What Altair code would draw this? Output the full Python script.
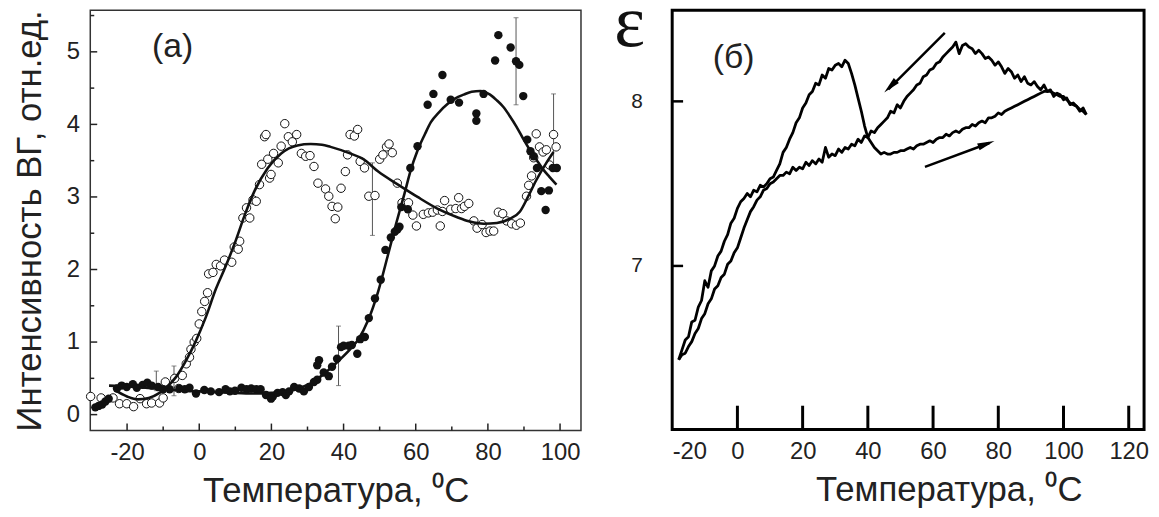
import altair as alt
import pandas as pd

# ---------------- Panel (a): SHG intensity vs temperature ----------------
open_T = [-30.1, -27.2, -23.9, -22.1, -20.1, -18.2, -16.4, -14.6, -13.2, -11.0, -10.0, -9.4, -6.8, -5.7,
          -4.7, -3.6, -2.7, -2.3, -1.4, -0.7, 0.0, 0.7, 1.5, 2.3, 2.6, 3.8, 4.7, 5.9, 7.0, 9.0, 9.7, 10.8,
          11.2, 12.1, 13.1, 14.0, 14.9, 15.8, 16.7, 17.3, 18.1, 18.5, 19.0, 19.5, 19.9, 20.6, 21.9, 22.7,
          23.7, 24.7, 25.8, 27.0, 28.3, 29.5, 30.7, 31.8, 32.9, 35.0, 35.9, 36.8, 38.4, 37.7, 39.3, 40.5,
          41.1, 41.8, 43.0, 43.9, 44.6, 45.8, 47.0, 48.7, 50.0, 50.9, 51.9, 52.6, 53.5, 54.9, 56.2, 58.0,
          59.2, 60.2, 62.1, 63.5, 64.7, 66.0, 67.4, 68.0, 69.7, 71.1, 71.9, 72.7, 73.5, 74.7, 66.8, 76.1,
          77.0, 78.4, 79.5, 80.6, 81.6, 82.9, 84.1, 85.2, 86.6, 87.9, 89.0, 90.7, 91.3, 92.1, 92.7, 93.4,
          94.3, 95.3, 96.2, 97.1, 98.2, 98.9]
open_I = [0.25, 0.23, 0.23, 0.15, 0.15, 0.11, 0.22, 0.15, 0.16, 0.16, 0.23, 0.45, 0.50, 0.36,
          0.54, 0.70, 0.79, 0.90, 1.00, 1.05, 1.25, 1.42, 1.56, 1.68, 1.94, 1.96, 2.07, 2.05, 2.13, 2.10, 2.31, 2.28,
          2.39, 2.71, 2.85, 2.71, 2.96, 2.94, 3.17, 3.45, 3.83, 3.86, 3.52, 3.26, 3.31, 3.60, 3.47, 3.70,
          4.01, 3.83, 3.76, 3.86, 3.60, 3.56, 3.57, 3.42, 3.19, 3.11, 3.01, 2.87, 2.86, 2.70, 3.12, 3.35,
          3.58, 3.86, 3.84, 3.93, 3.49, 3.40, 3.01, 3.02, 3.52, 3.58, 3.69, 3.73, 3.61, 3.19, 2.92, 2.92,
          2.75, 2.60, 2.76, 2.78, 2.79, 2.82, 2.80, 2.95, 2.83, 2.84, 2.99, 2.84, 2.87, 2.91, 2.60, 2.67,
          2.57, 2.62, 2.51, 2.53, 2.53, 2.79, 2.77, 2.67, 2.63, 2.61, 2.64, 3.01, 3.16, 3.29, 3.54, 3.87,
          3.69, 3.62, 3.65, 3.44, 3.86, 3.69]

fill_T = [-28.8, -27.9, -26.9, -26.0, -25.1, -22.8, -21.5, -20.1, -18.4, -17.3, -15.7, -14.4, -13.2, -11.4,
          -10.0, -8.2, -5.5, -4.0, -2.7, -0.9, 1.4, 3.2, 5.5, 7.3, 8.5, 9.9, 11.7, 13.1, 14.4, 15.8, 17.0,
          18.5, 19.9, 20.4, 21.7, 23.1, 24.0, 24.9, 26.3, 27.7, 29.0, 30.4, 31.8, 32.7, 33.2, 32.7, 34.5,
          35.9, 36.8, 38.2, 39.3, 40.0, 41.4, 42.3, 43.8, 44.6, 45.9, 47.0, 48.7, 50.3, 51.6, 53.1, 54.2,
          54.9, 55.5, 56.0, 57.8, 58.5, 60.5, 63.3, 64.9, 67.4, 69.7, 72.0, 76.8, 76.8, 78.8, 82.0, 82.9,
          86.3, 87.8, 88.7, 89.8, 90.9, 91.8, 92.7, 93.6, 94.8, 96.9, 96.0, 98.0, 99.1]
fill_I = [0.10, 0.12, 0.14, 0.18, 0.22, 0.36, 0.40, 0.38, 0.42, 0.37, 0.41, 0.44, 0.40, 0.38,
          0.35, 0.35, 0.36, 0.35, 0.37, 0.29, 0.34, 0.32, 0.31, 0.35, 0.32, 0.33, 0.37, 0.35, 0.36, 0.35, 0.35,
          0.27, 0.22, 0.25, 0.30, 0.31, 0.27, 0.32, 0.38, 0.36, 0.32, 0.38, 0.45, 0.48, 0.75, 0.68, 0.58,
          0.53, 0.66, 0.77, 0.93, 0.95, 0.95, 0.96, 0.84, 1.04, 1.07, 1.33, 1.60, 1.86, 2.27, 2.44, 2.52,
          2.55, 2.59, 2.86, 2.83, 3.40, 3.70, 4.27, 4.42, 4.68, 4.34, 4.30, 4.15, 4.05, 4.42, 4.88, 5.23,
          5.06, 4.87, 4.82, 4.39, 3.79, 3.63, 3.56, 3.40, 3.08, 3.09, 2.82, 3.40, 3.40]

fitA_T = [-23.5, -20, -17, -14, -11, -9, -6.4, -3.6, -0.9, 1.8, 4.6, 7.2, 9.9, 12.6, 15.3, 19.0, 22.7,
          27.2, 30.9, 34, 36.4, 41.8, 45.5, 49.6, 55.1, 60.5, 66.0, 71.5, 75, 78.8, 82.5, 86.1, 88.9,
          91.1, 93.4, 96.2, 98.2]
fitA_I = [0.34, 0.25, 0.21, 0.23, 0.30, 0.38, 0.52, 0.75, 1.02, 1.34, 1.73, 2.03, 2.37, 2.75, 3.08, 3.40, 3.60,
          3.71, 3.73, 3.72, 3.69, 3.60, 3.52, 3.35, 3.17, 3.00, 2.84, 2.72, 2.66, 2.63, 2.64, 2.70, 2.80,
          3.00, 3.23, 3.47, 3.62]

fitB_T = [-25, -20, -15, -10, -5, 0, 5, 10, 16, 20, 25.4, 28, 30.9, 33.5, 36.4, 39, 41.8, 44, 46.8, 49.6,
          52.3, 54.5, 56.9, 58.5, 60.5, 62.5, 64.2, 66.5, 68.8, 71, 73.3, 75.5, 77.9, 80.6, 82.5, 84.3, 86,
          87.9, 89.8, 91.6, 93.5, 95.3, 97, 99]
fitB_I = [0.40, 0.39, 0.37, 0.35, 0.33, 0.32, 0.31, 0.30, 0.29, 0.30, 0.33, 0.37, 0.43, 0.52, 0.64, 0.76,
          0.90, 1.03, 1.30, 1.70, 2.20, 2.62, 3.05, 3.35, 3.64, 3.86, 4.03, 4.17, 4.28, 4.36, 4.41, 4.45,
          4.46, 4.41, 4.33, 4.24, 4.12, 3.97, 3.80, 3.65, 3.51, 3.38, 3.28, 3.17]

err_T = [-11.9, -7.0, 38.6, 48.0, 87.8, 98.2]
err_lo = [0.33, 0.26, 0.40, 2.47, 4.27, 3.35]
err_hi = [0.60, 0.67, 1.22, 3.47, 5.47, 4.42]

left_x_major = [-20, 0, 20, 40, 60, 80, 100]
left_x_minor = [-10, 10, 30, 50, 70, 90]
left_y_major = [0, 1, 2, 3, 4, 5]
left_y_minor = [0.5, 1.5, 2.5, 3.5, 4.5, 5.5]

# ---------------- Panel (б): permittivity vs temperature ----------------
heat_T = list(range(-18, 108))
heat_E = [6.43, 6.49, 6.55, 6.57, 6.66, 6.67, 6.75, 6.79, 6.91, 6.87,
          6.97, 7.00, 7.06, 7.09, 7.15, 7.19, 7.26, 7.29, 7.35, 7.39,
          7.41, 7.44, 7.42, 7.46, 7.45, 7.49, 7.48, 7.50, 7.53, 7.54,
          7.58, 7.62, 7.69, 7.72, 7.77, 7.81, 7.87, 7.90, 7.96, 7.99,
          8.04, 8.06, 8.11, 8.10, 8.16, 8.14, 8.20, 8.19, 8.22, 8.23,
          8.21, 8.25, 8.23, 8.17, 8.10, 8.02, 7.94, 7.85, 7.78, 7.75,
          7.72, 7.70,
          7.68, 7.69, 7.68, 7.68, 7.69, 7.69, 7.70, 7.70, 7.71, 7.72, 7.71, 7.73, 7.74, 7.74, 7.75, 7.76,
          7.75, 7.77, 7.78, 7.78, 7.80, 7.79, 7.81, 7.82, 7.81, 7.83, 7.84, 7.84, 7.86, 7.85, 7.87, 7.88,
          7.87, 7.90, 7.90, 7.91, 7.93, 7.92, 7.94, 7.95, 7.96, 7.97, 7.98, 7.99, 8.00, 8.01, 8.02, 8.03,
          8.04, 8.05, 8.06, 8.06, 8.06, 8.05, 8.04, 8.03, 8.03, 8.01, 7.99, 7.98, 7.97, 7.95, 7.94, 7.92]
cool_T = list(range(107, -19, -1))
cool_E = [7.92, 7.96, 7.94, 7.97, 7.99, 7.98, 8.02, 8.01, 8.04, 8.05, 8.03, 8.07,
          8.06, 8.10, 8.07, 8.09, 8.12, 8.10, 8.11, 8.15, 8.12, 8.16, 8.14, 8.18,
          8.20, 8.17, 8.21, 8.24, 8.22, 8.25, 8.27, 8.26, 8.29, 8.31, 8.29, 8.32,
          8.33, 8.35, 8.34, 8.29, 8.36, 8.33, 8.31, 8.29, 8.27, 8.24, 8.23, 8.20,
          8.19, 8.16, 8.15, 8.11, 8.10, 8.07, 8.05, 8.03, 8.00, 7.96, 7.98, 7.93,
          7.94, 7.90, 7.88, 7.86, 7.84, 7.81, 7.82, 7.78, 7.79, 7.75, 7.77, 7.73,
          7.74, 7.71, 7.72, 7.69, 7.71, 7.67, 7.68, 7.66, 7.72, 7.63, 7.65, 7.62,
          7.64, 7.61, 7.63, 7.59, 7.60, 7.58, 7.60, 7.56, 7.57, 7.55, 7.55, 7.53,
          7.51, 7.50, 7.47, 7.46, 7.42, 7.40, 7.36, 7.33, 7.28, 7.23, 7.17, 7.11,
          7.08, 7.03, 7.01, 6.95, 6.93, 6.88, 6.86, 6.80, 6.77, 6.71, 6.68, 6.62, 6.59, 6.54, 6.51, 6.47,
          6.46, 6.43]

right_x_labels = [-20, 0, 20, 40, 60, 80, 100, 120]
right_x_ticks = [0, 20, 40, 60, 80, 100, 120]
right_y_ticks = [7, 8]

# ---------------- styling ----------------
FONT = "Liberation Sans"
TXT = "#222222"
LW, LH = 495, 424
RW, RH = 476, 423

lx = alt.Scale(domain=[-30.2, 105.8], nice=False, zero=False)
ly = alt.Scale(domain=[-0.219, 5.574], nice=False, zero=False)
lx_axis = alt.Axis(title="Температура, ⁰C", values=left_x_major, ticks=False, tickSize=0, domain=False,
                   grid=False, labelFont=FONT, labelFontSize=24, labelColor=TXT, labelPadding=10,
                   labelExpr="'' + datum.value", titleFont=FONT, titleFontSize=35, titleFontWeight="normal",
                   titleColor=TXT, titlePadding=10)
ly_axis = alt.Axis(title="Интенсивность ВГ, отн.ед.", values=left_y_major, ticks=False, tickSize=0,
                   domain=False, grid=False, labelFont=FONT, labelFontSize=24, labelColor=TXT,
                   labelPadding=11, labelExpr="'' + datum.value", titleFont=FONT, titleFontSize=35,
                   titleFontWeight="normal", titleColor=TXT, titlePadding=19)


def LX(f="T"):
    return alt.X(f"{f}:Q", scale=lx, axis=lx_axis)


def LY(f="I"):
    return alt.Y(f"{f}:Q", scale=ly, axis=ly_axis)


df_open = pd.DataFrame({"T": open_T, "I": open_I})
df_fill = pd.DataFrame({"T": fill_T, "I": fill_I})
df_fitA = pd.DataFrame({"T": fitA_T, "I": fitA_I})
df_fitB = pd.DataFrame({"T": fitB_T, "I": fitB_I})
df_err = pd.DataFrame({"T": err_T, "lo": err_lo, "hi": err_hi})

l_err = alt.Chart(df_err).mark_rule(color="#555555", strokeWidth=1).encode(x=LX(), y=LY("lo"), y2="hi:Q")
l_cap1 = alt.Chart(df_err).mark_tick(orient="horizontal", size=5, thickness=1, color="#555555").encode(
    x=LX(), y=LY("lo"))
l_cap2 = alt.Chart(df_err).mark_tick(orient="horizontal", size=5, thickness=1, color="#555555").encode(
    x=LX(), y=LY("hi"))
l_open = alt.Chart(df_open).mark_point(shape="circle", size=72, fill="white", fillOpacity=1, stroke="#111111",
                                       strokeWidth=1, opacity=1).encode(x=LX(), y=LY())
l_fill = alt.Chart(df_fill).mark_point(shape="circle", size=72, filled=True, color="#111111",
                                       opacity=1).encode(x=LX(), y=LY())
l_fitA = alt.Chart(df_fitA).mark_line(color="#111111", strokeWidth=2.6, interpolate="monotone").encode(
    x=LX(), y=LY())
l_fitB = alt.Chart(df_fitB).mark_line(color="#111111", strokeWidth=2.6, interpolate="monotone").encode(
    x=LX(), y=LY())
l_xmaj = alt.Chart(pd.DataFrame({"T": left_x_major})).mark_rule(color=TXT, strokeWidth=1.5).encode(
    x=LX(), y=alt.value(LH), y2=alt.value(LH - 7))
l_xmin = alt.Chart(pd.DataFrame({"T": left_x_minor})).mark_rule(color=TXT, strokeWidth=1.5).encode(
    x=LX(), y=alt.value(LH), y2=alt.value(LH - 4))
l_ymaj = alt.Chart(pd.DataFrame({"I": left_y_major})).mark_rule(color=TXT, strokeWidth=1.5).encode(
    y=LY(), x=alt.value(0), x2=alt.value(7))
l_ymin = alt.Chart(pd.DataFrame({"I": left_y_minor})).mark_rule(color=TXT, strokeWidth=1.5).encode(
    y=LY(), x=alt.value(0), x2=alt.value(4))
l_lab = alt.Chart(pd.DataFrame({"t": ["(a)"]})).mark_text(font=FONT, fontSize=34, color=TXT).encode(
    x=alt.value(83), y=alt.value(37), text="t:N")

left = alt.layer(l_err, l_cap1, l_cap2, l_open, l_fill, l_fitA, l_fitB, l_xmaj, l_xmin, l_ymaj, l_ymin,
                 l_lab).properties(width=LW, height=LH,
                                   view=alt.ViewBackground(stroke="#333333", strokeWidth=1.5))

# ---------------- right panel ----------------
rx = alt.Scale(domain=[-20, 124.7], nice=False, zero=False)
ry = alt.Scale(domain=[6.006, 8.554], nice=False, zero=False)
rx_axis = alt.Axis(title="Температура, ⁰C", values=right_x_labels, ticks=False, tickSize=0, domain=False,
                   grid=False, labelFont=FONT, labelFontSize=24, labelColor=TXT, labelPadding=10,
                   labelExpr="'' + datum.value",
                   labelAlign=alt.condition("datum.value == -20", alt.value("left"), alt.value("center")),
                   titleFont=FONT, titleFontSize=35, titleFontWeight="normal", titleColor=TXT,
                   titlePadding=10, titleX=279)
ry_axis = alt.Axis(title=None, values=right_y_ticks, ticks=False, tickSize=0, domain=False, grid=False,
                   labelFont=FONT, labelFontSize=21, labelColor=TXT, labelPadding=30)


def RX(f="T"):
    return alt.X(f"{f}:Q", scale=rx, axis=rx_axis)


def RY(f="E"):
    return alt.Y(f"{f}:Q", scale=ry, axis=ry_axis)


df_heat = pd.DataFrame({"T": heat_T, "E": heat_E, "i": range(len(heat_T))})
df_cool = pd.DataFrame({"T": cool_T, "E": cool_E, "i": range(len(cool_T))})

r_heat = alt.Chart(df_heat).mark_line(color="#000000", strokeWidth=2.8, strokeJoin="round").encode(
    x=RX(), y=RY(), order="i:Q")
r_cool = alt.Chart(df_cool).mark_line(color="#000000", strokeWidth=2.8, strokeJoin="round").encode(
    x=RX(), y=RY(), order="i:Q")
r_xt = alt.Chart(pd.DataFrame({"T": right_x_ticks})).mark_rule(color="#000000", strokeWidth=3).encode(
    x=RX(), y=alt.value(RH), y2=alt.value(RH - 24))
r_yt = alt.Chart(pd.DataFrame({"E": right_y_ticks})).mark_rule(color="#000000", strokeWidth=2.5).encode(
    y=RY(), x=alt.value(0), x2=alt.value(11))
one = pd.DataFrame({"t": ["(б)"]})
r_lab = alt.Chart(one).mark_text(font=FONT, fontSize=34, color=TXT).encode(
    x=alt.value(62), y=alt.value(48), text="t:N")
r_eps = alt.Chart(pd.DataFrame({"t": ["ε"]})).mark_text(font="Liberation Serif", fontSize=74, baseline="top",
                                                         color="#111111").encode(
    x=alt.value(-43), y=alt.value(-22), text="t:N")
arrow_shape = "M0,-1L0.42,1L-0.42,1Z"
r_a1 = alt.Chart(one).mark_rule(color="#000000", strokeWidth=2.5).encode(
    x=alt.value(275), x2=alt.value(218), y=alt.value(23), y2=alt.value(80))
r_h1 = alt.Chart(one).mark_point(shape=arrow_shape, size=300, filled=True, color="#000000", opacity=1,
                                 angle=225).encode(x=alt.value(220), y=alt.value(77))
r_a2 = alt.Chart(one).mark_rule(color="#000000", strokeWidth=2.5).encode(
    x=alt.value(255), x2=alt.value(320), y=alt.value(158), y2=alt.value(134))
r_h2 = alt.Chart(one).mark_point(shape=arrow_shape, size=300, filled=True, color="#000000", opacity=1,
                                 angle=70).encode(x=alt.value(317), y=alt.value(135))

right = alt.layer(r_heat, r_cool, r_xt, r_yt, r_lab, r_eps, r_a1, r_h1, r_a2, r_h2).properties(
    width=RW, height=RH, view=alt.ViewBackground(stroke="#000000", strokeWidth=3))

chart = alt.hconcat(left, right, spacing=30).properties(
    padding={"top": -25, "left": 3, "right": 0, "bottom": 0}).configure(background="white")

chart.save("out.html", embed_options={"renderer": "svg", "actions": False})
